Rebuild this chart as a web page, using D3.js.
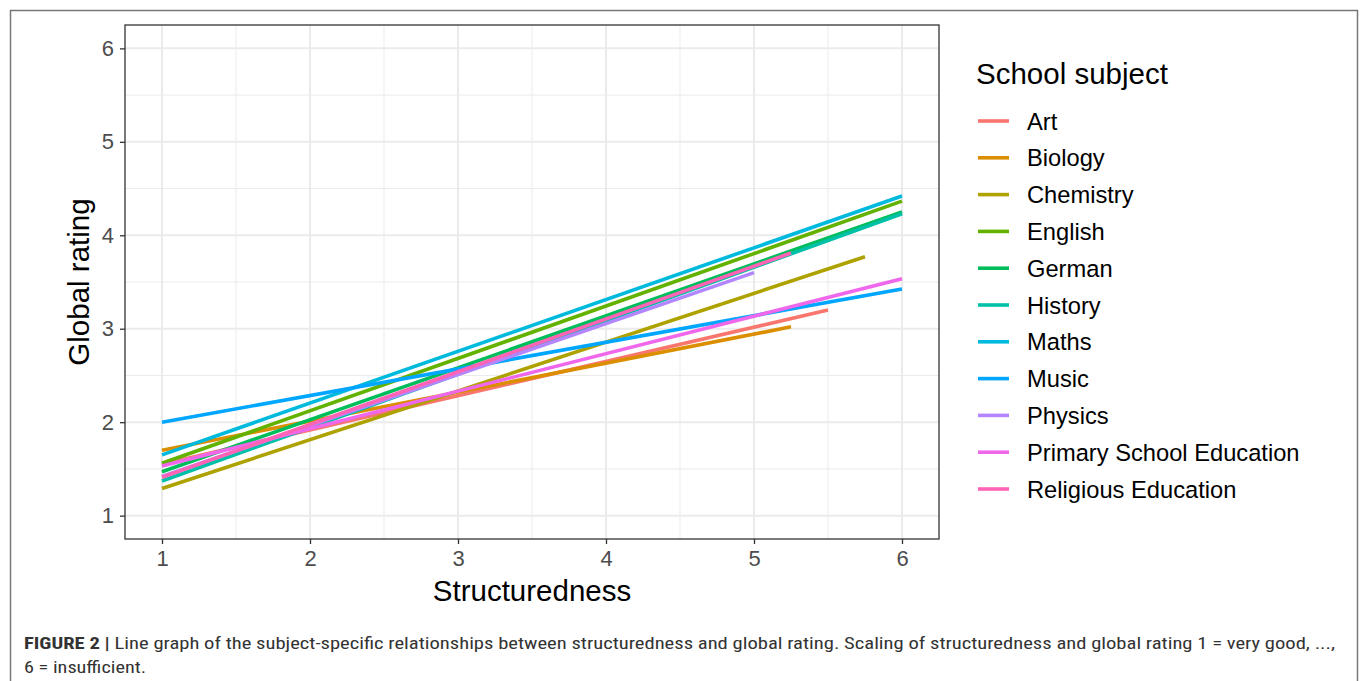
<!DOCTYPE html>
<html>
<head>
<meta charset="utf-8">
<script src="https://cdn.jsdelivr.net/npm/d3@7"></script>
<style>
  body { margin: 0; background: #fff; }
  svg text { font-family: Arial, "Liberation Sans", sans-serif; }
</style>
</head>
<body>
<div id="chart"></div>
<script>
// fitted lm lines: start at structuredness 1, end at last observed value
var subjects = ["Art", "Biology", "Chemistry", "English", "German", "History",
                "Maths", "Music", "Physics", "Primary School Education", "Religious Education"];
var xEnd   = [5.5, 5.25, 5.75, 6, 6, 6, 6, 6, 5, 6, 5.25];
var yStart = [1.55, 1.70, 1.29, 1.56, 1.47, 1.37, 1.65, 2.00, 1.42, 1.53, 1.41];
var yEnd   = [3.20, 3.02, 3.77, 4.365, 4.25, 4.23, 4.42, 3.425, 3.60, 3.535, 3.81];
var colors = ["#F8766D", "#DB8E00", "#AEA200", "#64B200", "#00BD5C", "#00C1A7",
              "#00BADE", "#00A6FF", "#B385FF", "#EF67EB", "#FF63B6"];
var xTicks = [1, 2, 3, 4, 5, 6];
var yTicks = [1, 2, 3, 4, 5, 6];

var W = 1360, H = 681;
var svg = d3.select("#chart").append("svg")
    .attr("width", W).attr("height", H);

// outer figure frame
svg.append("rect")
    .attr("x", 10.5).attr("y", 10.5)
    .attr("width", 1347).attr("height", 690)
    .attr("fill", "none").attr("stroke", "#777").attr("stroke-width", 1.5);

var panel = { left: 125, top: 25, right: 939, bottom: 539 };

var x = d3.scaleLinear().domain([0.75, 6.25]).range([panel.left, panel.right]);
var y = d3.scaleLinear().domain([0.75, 6.25]).range([panel.bottom, panel.top]);

var g = svg.append("g");

// minor grid
var minors = d3.range(0.5, 6.5, 1).filter(function (v) { return v > 0.75 && v < 6.25; });
g.selectAll(".vminor").data(minors).enter().append("line")
    .attr("x1", function (d) { return x(d); }).attr("x2", function (d) { return x(d); })
    .attr("y1", panel.top).attr("y2", panel.bottom)
    .attr("stroke", "#EBEBEB").attr("stroke-width", 1);
g.selectAll(".hminor").data(minors).enter().append("line")
    .attr("y1", function (d) { return y(d); }).attr("y2", function (d) { return y(d); })
    .attr("x1", panel.left).attr("x2", panel.right)
    .attr("stroke", "#EBEBEB").attr("stroke-width", 1);

// major grid
g.selectAll(".vmajor").data(xTicks).enter().append("line")
    .attr("x1", function (d) { return x(d); }).attr("x2", function (d) { return x(d); })
    .attr("y1", panel.top).attr("y2", panel.bottom)
    .attr("stroke", "#EBEBEB").attr("stroke-width", 2);
g.selectAll(".hmajor").data(yTicks).enter().append("line")
    .attr("y1", function (d) { return y(d); }).attr("y2", function (d) { return y(d); })
    .attr("x1", panel.left).attr("x2", panel.right)
    .attr("stroke", "#EBEBEB").attr("stroke-width", 2);

// lines
var lineData = subjects.map(function (s, i) {
    return { name: s, color: colors[i], pts: [[1, yStart[i]], [xEnd[i], yEnd[i]]] };
});
var line = d3.line()
    .x(function (d) { return x(d[0]); })
    .y(function (d) { return y(d[1]); });

g.selectAll(".fit").data(lineData).enter().append("path")
    .attr("class", "fit")
    .attr("d", function (d) { return line(d.pts); })
    .attr("fill", "none")
    .attr("stroke", function (d) { return d.color; })
    .attr("stroke-width", 3.6);

// panel border
g.append("rect")
    .attr("x", panel.left).attr("y", panel.top)
    .attr("width", panel.right - panel.left).attr("height", panel.bottom - panel.top)
    .attr("fill", "none").attr("stroke", "#333").attr("stroke-width", 1.3);

// axes
var xAxis = svg.append("g")
    .attr("transform", "translate(0," + panel.bottom + ")")
    .call(d3.axisBottom(x).tickValues(xTicks).tickSize(5).tickPadding(6).tickFormat(d3.format("d")));
var yAxis = svg.append("g")
    .attr("transform", "translate(" + panel.left + ",0)")
    .call(d3.axisLeft(y).tickValues(yTicks).tickSize(5).tickPadding(6).tickFormat(d3.format("d")));
[xAxis, yAxis].forEach(function (a) {
    a.select(".domain").remove();
    a.selectAll(".tick line").attr("stroke", "#333").attr("stroke-width", 1.3);
    a.selectAll(".tick text").attr("fill", "#4D4D4D").style("font-size", "22px");
});

// axis titles
svg.append("text")
    .attr("x", (panel.left + panel.right) / 2).attr("y", 601)
    .attr("text-anchor", "middle").style("font-size", "29.5px").attr("fill", "#000")
    .text("Structuredness");
svg.append("text")
    .attr("transform", "translate(89," + ((panel.top + panel.bottom) / 2) + ") rotate(-90)")
    .attr("text-anchor", "middle").style("font-size", "29.5px").attr("fill", "#000")
    .text("Global rating");

// legend
var legend = svg.append("g").attr("transform", "translate(976,0)");
legend.append("text")
    .attr("x", 0).attr("y", 84)
    .style("font-size", "29.5px").attr("fill", "#000")
    .text("School subject");
var items = legend.selectAll(".item").data(lineData).enter().append("g")
    .attr("transform", function (d, i) { return "translate(0," + (121 + i * 36.8) + ")"; });
items.append("line")
    .attr("x1", 2).attr("x2", 33).attr("y1", 0).attr("y2", 0)
    .attr("stroke", function (d) { return d.color; }).attr("stroke-width", 3.6);
items.append("text")
    .attr("x", 51).attr("y", 8.5)
    .style("font-size", "23.7px").attr("fill", "#000")
    .text(function (d) { return d.name; });

// caption
var capFont = "'Liberation Sans Narrow', 'Roboto Condensed', Arial, sans-serif";
var cap = svg.append("text")
    .attr("x", 24).attr("y", 649)
    .style("font-size", "17px").attr("fill", "#333")
    .style("font-family", capFont)
    .attr("textLength", 1311).attr("lengthAdjust", "spacingAndGlyphs");
cap.append("tspan").style("font-weight", "bold").text("FIGURE 2 | ");
cap.append("tspan").text("Line graph of the subject-specific relationships between structuredness and global rating. Scaling of structuredness and global rating 1 = very good, ...,");
svg.append("text")
    .attr("x", 24).attr("y", 673)
    .style("font-size", "17px").attr("fill", "#333")
    .style("font-family", capFont)
    .attr("textLength", 122).attr("lengthAdjust", "spacingAndGlyphs")
    .text("6 = insufficient.");
</script>
</body>
</html>
